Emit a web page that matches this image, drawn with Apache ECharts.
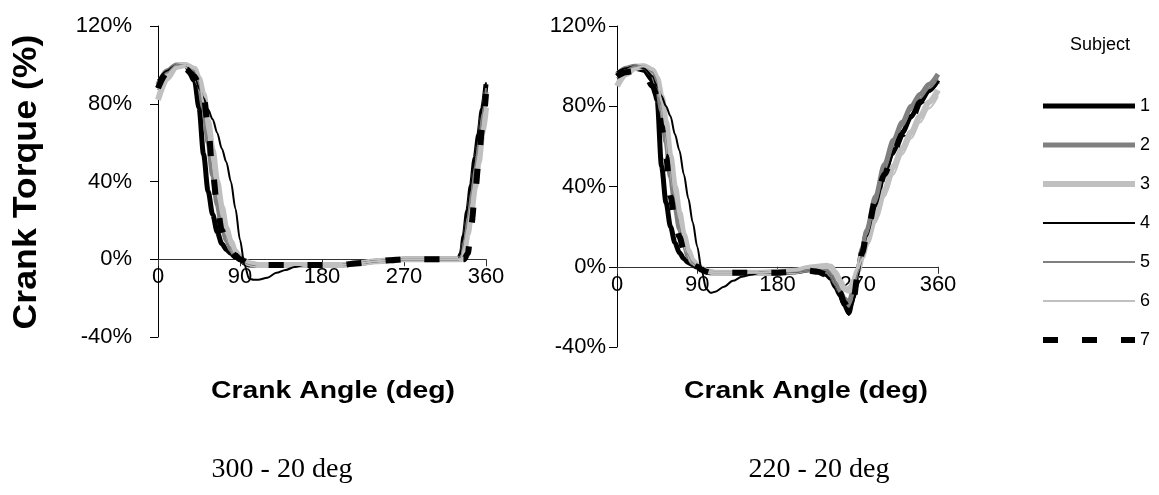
<!DOCTYPE html>
<html><head><meta charset="utf-8">
<script src="https://cdn.jsdelivr.net/npm/echarts@6/dist/echarts.min.js"></script>
<style>html,body{margin:0;padding:0;background:#fff}#c{width:1159px;height:495px}</style>
</head><body><div id="c"></div>
<script>
// ---- data (crank torque, % of peak, vs crank angle in degrees) ----
const subjects = ['1','2','3','4','5','6','7'];
const xTicks = [0, 90, 180, 270, 360];
const yTicks = [-40, 0, 40, 80, 120];

// Left panel: 300 - 20 deg
const anglesLeft = [0,10,20,30,40,45,50,55,60,65,70,75,80,85,90,95,100,105,110,120,130,140,150,160,180,200,220,240,255,270,290,310,320,325,330,333,336,340,344,348,352,356,360];
const left1 = [88,95,99,100,92,78,54,35,23,14,8,5,3,1,0,-2,-3,-3,-3,-3,-3,-3,-3,-3,-3,-3,-2,-1,-0.5,0,0,0,0,0,0,3,12,25,38,52,64,77,90];
const left2 = [90,97,100,100,96,90,78,60,43,28,17,10,5,2,0,-1.5,-2.5,-3,-3,-3,-3,-3,-3,-3,-3,-3,-2,-1,-0.5,0,0,0,0,0,0,1,8,20,33,46,59,73,86];
const left3 = [82,93,99,100,98,93,85,71,56,40,27,16,9,4,1,-1,-2,-2.5,-3,-3,-3,-3,-3,-3,-3,-3,-2,-1,-0.5,0,0,0,0,0,0,0,4,13,25,37,50,64,78];
const left4 = [92,97,100,100,96,88,83,77,72,65,57,50,40,26,10,-3,-10,-10.5,-10.5,-9.5,-7,-5.5,-4,-3,-3,-3,-2,-1,-0.5,0,0,0,0,0,0,5,14,27,40,53,66,79,91];
const left5 = [87,96,100,100,97,91,76,58,42,30,20,12,6,2,0,-1.5,-2.5,-3,-3,-3,-3,-3,-3,-3,-3,-3,-2,-1,-0.5,0,0,0,0,0,0,2,10,22,35,48,61,75,88];
const left6 = [85,95,99,100,98,94,80,65,50,35,22,13,7,3,1,-1,-2,-2.5,-3,-3,-3,-3,-3,-3,-3,-3,-2,-1,-0.5,0,0,0,0,0,0,0,6,16,28,41,54,68,82];
const left7 = [88,96,98,98,94,90,84,68,45,27,15,8,4,2,0,-1,-2.5,-3,-3,-3,-3,-3,-3,-3,-3,-3,-2,-1,-0.5,0,0,0,0,0,0,0,0,3,18,34,51,68,85];

// Right panel: 220 - 20 deg
const anglesRight = [0,10,20,30,40,45,50,55,60,65,70,75,80,85,90,95,100,105,110,120,130,140,150,160,180,200,215,225,235,240,245,250,255,260,265,270,275,280,290,300,310,320,330,340,350,360];
const right1 = [95,98,99,98,93,83,50,32,20,12,7,4,2,1,0,-1.5,-2.5,-3,-3,-3,-3,-3,-3,-3,-3,-2.5,-1.5,-2,-4,-6,-10,-14,-19,-23,-15,-2,8,17,32,47,58,67,75,82,88,93];
const right2 = [96,99,100,100,96,90,78,62,45,30,19,11,5,2,0.5,-1,-2,-2.5,-3,-3,-3,-3,-3,-3,-3,-2.5,-1.5,-1,-2,-4,-8,-12,-16,-18,-12,-2,9,18,35,51,63,72,80,86,91,96];
const right3 = [90,96,99,100,98,94,85,72,55,40,27,16,8,3,1,-1,-2,-2.5,-3,-3,-3,-3,-3,-3,-2.5,-2,-0.5,0,0.5,0,-3,-7,-11,-12,-8,-2,5,12,25,38,50,59,67,75,82,88];
const right4 = [97,99,100,99,95,90,85,80,75,66,58,46,34,22,10,-2,-11,-13,-12.5,-10,-7,-5,-4,-3,-3,-2.5,-1.5,-2,-3,-5,-9,-14,-20,-24,-18,-5,6,15,30,45,56,66,74,81,87,92];
const right5 = [94,98,100,100,97,92,80,65,48,32,20,12,6,2,0.5,-1,-2,-2.5,-3,-3,-3,-3,-3,-3,-3,-2.5,-1.5,-1.5,-3,-5,-9,-13,-17,-20,-14,-3,7,16,32,48,60,70,78,84,89,94];
const right6 = [92,97,99,100,98,95,82,68,52,36,24,14,7,3,1,-1,-2,-2.5,-3,-3,-3,-3,-3,-3,-2.5,-2,-0.5,0,0,-1,-4,-8,-11,-10,-6,-1,4,10,22,35,46,56,64,72,79,85];
const right7 = [95,97,97.5,97,90,85,70,55,35,23,15,8,2,1,0,-1.5,-2.5,-3,-3,-3,-3,-3,-3,-3,-3,-2.5,-2,-2.5,-4,-6,-9,-13,-18,-22,-17,-4,7,16,33,46,57,66,73,82,88,92];

const panelTitles = ['300 - 20 deg', '220 - 20 deg'];
const xTitle = 'Crank Angle (deg)';
const yTitle = 'Crank Torque (%)';
const legendTitle = 'Subject';

// ---- styles ----
const lineStyles = [
  {color:'#000000', width:5, type:'solid'},
  {color:'#808080', width:5, type:'solid'},
  {color:'#c0c0c0', width:6, type:'solid'},
  {color:'#000000', width:2, type:'solid'},
  {color:'#808080', width:2, type:'solid'},
  {color:'#c0c0c0', width:2, type:'solid'},
  {color:'#000000', width:6, type:[15,24]}
];
const FONT = '"Liberation Sans", Arial, sans-serif';

const leftSets = [left1,left2,left3,left4,left5,left6,left7];
const rightSets = [right1,right2,right3,right4,right5,right6,right7];

const grids = [
  {left: 158, top: 26, width: 328, height: 311},
  {left: 617, top: 26, width: 321, height: 321}
];
const yLabelMargins = [26, 11];

function makeSeries(angles, sets, idx) {
  return sets.map((vals, i) => ({
    name: subjects[i],
    type: 'line',
    xAxisIndex: idx, yAxisIndex: idx,
    symbol: 'none',
    smooth: 0.3,
    smoothMonotone: 'x',
    color: lineStyles[i].color,
    lineStyle: {color: lineStyles[i].color, width: lineStyles[i].width, type: lineStyles[i].type, cap: 'butt'},
    data: angles.map((a, j) => [a, vals[j]]),
    z: 2 + i
  }));
}

function xAxis(idx) {
  // place the angle axis on the 0% line
  const g = grids[idx];
  const zeroFromBottom = g.height * (0 - yTicks[0]) / (yTicks[yTicks.length-1] - yTicks[0]);
  return {
    gridIndex: idx, type: 'value', position: 'bottom', min: xTicks[0], max: xTicks[xTicks.length-1], interval: 90,
    offset: -zeroFromBottom,
    axisLine: {onZero: false, lineStyle: {color: '#333', width: 1}},
    axisTick: {show: true, inside: false, length: 7, lineStyle: {color: '#333'}},
    axisLabel: {color: '#000', fontSize: 22, fontFamily: FONT, margin: 7, showMinLabel: true, showMaxLabel: true},
    splitLine: {show: false}
  };
}
function yAxis(idx) {
  return {
    gridIndex: idx, type: 'value', min: yTicks[0], max: yTicks[yTicks.length-1], interval: 40,
    axisLine: {show: true, onZero: false, lineStyle: {color: '#000', width: 1}},
    axisTick: {show: true, length: 8, lineStyle: {color: '#000'}},
    axisLabel: {color: '#000', fontSize: 22, fontFamily: FONT, margin: yLabelMargins[idx], formatter: '{value}%'},
    splitLine: {show: false}
  };
}

const chart = echarts.init(document.getElementById('c'), null, {renderer: 'canvas'});
chart.setOption({
  animation: false,
  backgroundColor: '#fff',
  grid: grids,
  xAxis: [xAxis(0), xAxis(1)],
  yAxis: [yAxis(0), yAxis(1)],
  legend: {
    orient: 'vertical', left: 1035, top: 92,
    itemWidth: 92, itemHeight: 14, itemGap: 21,
    textStyle: {color: '#000', fontSize: 18, fontFamily: FONT},
    lineStyle: {width: 'inherit'},
    itemStyle: {opacity: 0},
    data: subjects
  },
  graphic: [
    {type: 'text', x: 27, y: 182, rotation: Math.PI/2, scaleX: 1.05,
     style: {text: yTitle, fontSize: 34, fontWeight: 'bold', fontFamily: FONT, fill: '#000', align: 'center', verticalAlign: 'middle'}},
    {type: 'text', x: 333, y: 391, scaleX: 1.18,
     style: {text: xTitle, fontSize: 24, fontWeight: 'bold', fontFamily: FONT, fill: '#000', align: 'center', verticalAlign: 'middle'}},
    {type: 'text', x: 806, y: 391, scaleX: 1.18,
     style: {text: xTitle, fontSize: 24, fontWeight: 'bold', fontFamily: FONT, fill: '#000', align: 'center', verticalAlign: 'middle'}},
    {type: 'text', x: 282, y: 470,
     style: {text: panelTitles[0], fontSize: 28, fontFamily: '"Liberation Serif", "Times New Roman", serif', fill: '#000', align: 'center', verticalAlign: 'middle'}},
    {type: 'text', x: 819, y: 470,
     style: {text: panelTitles[1], fontSize: 28, fontFamily: '"Liberation Serif", "Times New Roman", serif', fill: '#000', align: 'center', verticalAlign: 'middle'}},
    {type: 'text', x: 1100, y: 45,
     style: {text: legendTitle, fontSize: 18, fontFamily: FONT, fill: '#000', align: 'center', verticalAlign: 'middle'}}
  ],
  series: makeSeries(anglesLeft, leftSets, 0).concat(makeSeries(anglesRight, rightSets, 1))
});
</script></body></html>
